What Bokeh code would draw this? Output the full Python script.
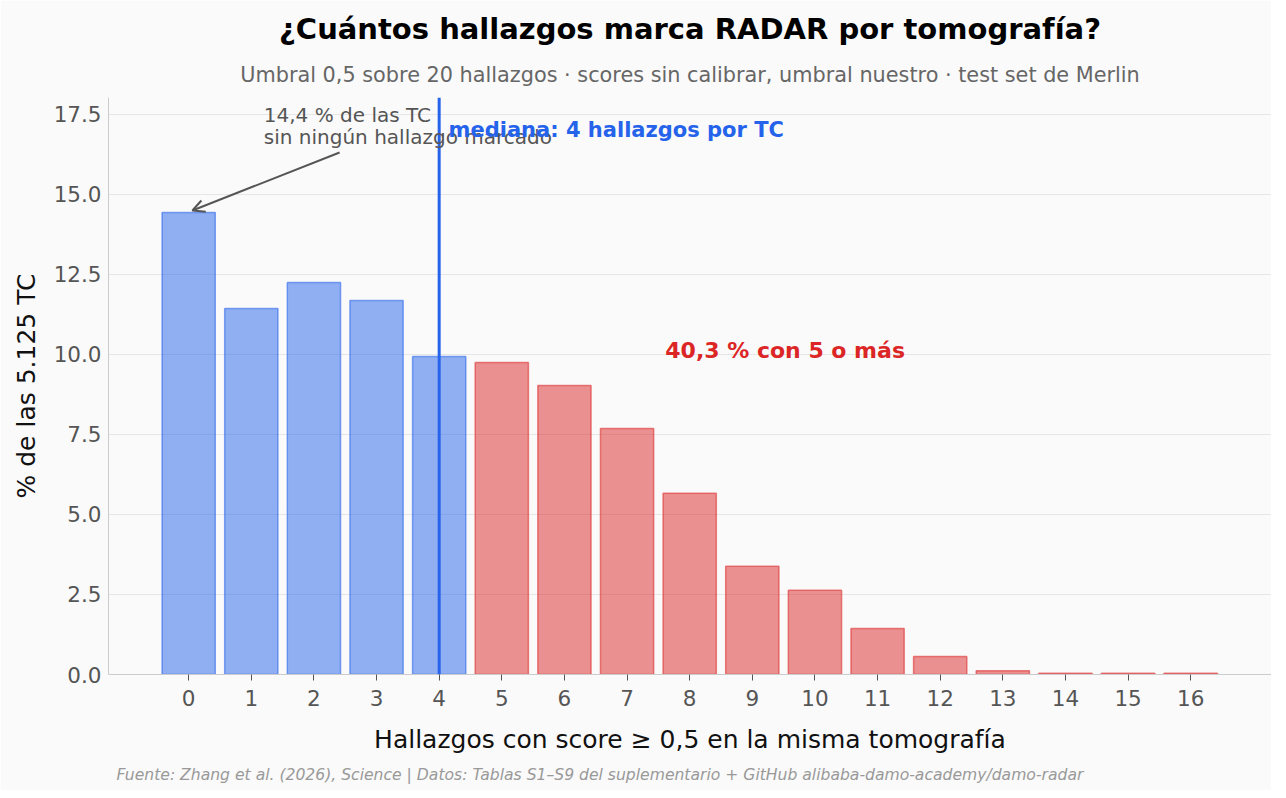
from bokeh.plotting import figure
from bokeh.models import ColumnDataSource, Label, Span, Arrow, OpenHead, FixedTicker, NumeralTickFormatter, Range1d, Title
from bokeh.embed import file_html
from bokeh.resources import INLINE

# ---- data ----
hallazgos = list(range(17))
porcentaje = [14.44, 11.44, 12.25, 11.69, 9.94, 9.75, 9.03, 7.69, 5.66, 3.38, 2.63, 1.44, 0.56, 0.12, 0.04, 0.04, 0.04]
mediana = 4
umbral_grupo = 5
y_ticks = [0.0, 2.5, 5.0, 7.5, 10.0, 12.5, 15.0, 17.5]

titulo = "¿Cuántos hallazgos marca RADAR por tomografía?"
subtitulo = "Umbral 0,5 sobre 20 hallazgos · scores sin calibrar, umbral nuestro · test set de Merlin"
fuente = "Fuente: Zhang et al. (2026), Science | Datos: Tablas S1–S9 del suplementario + GitHub alibaba-damo-academy/damo-radar"
nota_cero = "14,4 % de las TC\nsin ningún hallazgo marcado"
nota_mediana = "mediana: 4 hallazgos por TC"
nota_cola = "40,3 % con 5 o más"

BLUE = "#2563eb"
RED = "#dc2626"
FONT = "DejaVu Sans"

colors = [BLUE if h < umbral_grupo else RED for h in hallazgos]
src = ColumnDataSource(dict(x=hallazgos, top=porcentaje, color=colors))

p = figure(width=1271, height=790, output_backend="svg", toolbar_location=None, title=None,
           x_range=Range1d(-1.28, 17.29), y_range=Range1d(0, 18.03),
           min_border_left=108, min_border_right=0, min_border_top=97, min_border_bottom=116,
           background_fill_color="#fafafa", border_fill_color="#fafafa")
p.outline_line_color = None

p.vbar(x="x", top="top", width=0.85, source=src, fill_color="color", fill_alpha=0.5,
       line_color="color", line_alpha=0.55, line_width=1.5)

p.add_layout(Span(location=mediana, dimension="height", line_color=BLUE, line_width=3))

# axes
p.xaxis.ticker = FixedTicker(ticks=hallazgos)
p.yaxis.ticker = FixedTicker(ticks=y_ticks)
p.yaxis.formatter = NumeralTickFormatter(format="0.0")
p.xaxis.minor_tick_line_color = None
p.yaxis.minor_tick_line_color = None
p.yaxis.major_tick_line_color = None
p.xaxis.major_tick_line_color = "#555555"
p.xaxis.major_tick_out = 6
p.xaxis.major_tick_in = 0
for ax in (p.xaxis, p.yaxis):
    ax.axis_line_color = "#cccccc"
    ax.major_label_text_font = FONT
    ax.major_label_text_font_size = "21.5px"
    ax.major_label_text_color = "#555555"
    ax.axis_label_text_font = FONT
    ax.axis_label_text_font_size = "25px"
    ax.axis_label_text_font_style = "normal"
    ax.axis_label_text_color = "#111111"
p.xaxis.axis_label = "Hallazgos con score ≥ 0,5 en la misma tomografía"
p.yaxis.axis_label = "% de las 5.125 TC"
p.xaxis.major_label_standoff = 9
p.yaxis.major_label_standoff = 1
p.xaxis.axis_label_standoff = 16
p.yaxis.axis_label_standoff = 10

p.xgrid.grid_line_color = None
p.ygrid.ticker = FixedTicker(ticks=y_ticks)
p.ygrid.grid_line_color = "#e6e6e6"
p.ygrid.grid_line_width = 1

# titles (first added = nearest the frame)
p.add_layout(Title(text=subtitulo, align="center", text_font=FONT, text_font_size="20.8px",
                   text_font_style="normal", text_color="#666666", standoff=21), "above")
p.add_layout(Title(text=titulo, align="center", text_font=FONT, text_font_size="29px",
                   text_font_style="bold", text_color="#000000", standoff=10), "above")
p.add_layout(Title(text=fuente, align="left", offset=8, text_font=FONT, text_font_size="15.6px",
                   text_font_style="italic", text_color="#999999", standoff=14), "below")

# annotations
p.add_layout(Arrow(x_start=2.41, y_start=16.31, x_end=0.06, y_end=14.5,
                   line_color="#555555", line_width=2,
                   end=OpenHead(size=12, line_color="#555555", line_width=2)))
p.add_layout(Label(x=1.2, y=17.85, text=nota_cero, text_align="left", text_baseline="top",
                   text_font=FONT, text_font_size="20px", text_color="#555555", text_line_height=0.92))
p.add_layout(Label(x=4.15, y=17.0, text=nota_mediana, text_align="left", text_baseline="middle",
                   text_font=FONT, text_font_size="21px", text_font_style="bold", text_color=BLUE))
p.add_layout(Label(x=7.61, y=10.12, text=nota_cola, text_align="left", text_baseline="middle",
                   text_font=FONT, text_font_size="22px", text_font_style="bold", text_color=RED))

open("out.html", "w").write(file_html(p, INLINE))
